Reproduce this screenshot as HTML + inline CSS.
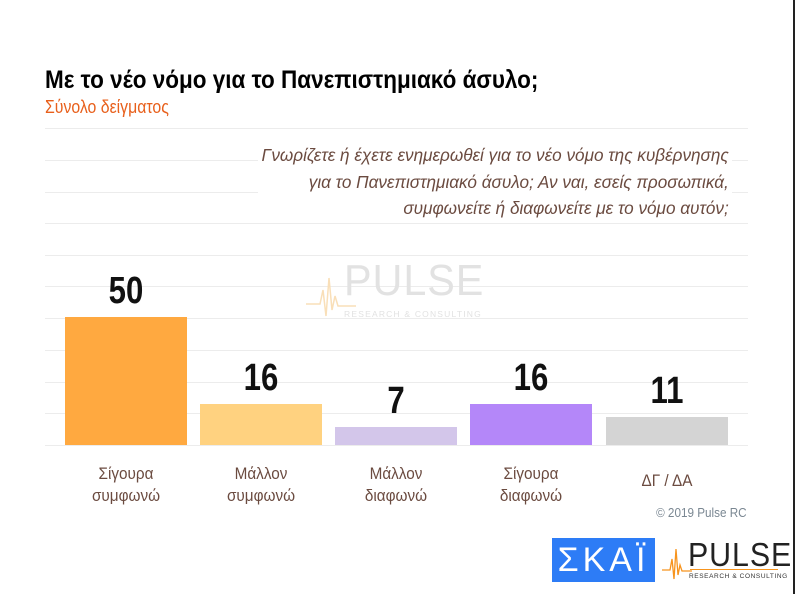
<!DOCTYPE html>
<html><head><meta charset="utf-8"><style>
body{margin:0;width:797px;height:594px;background:#fff;position:relative;overflow:hidden;font-family:"Liberation Sans",sans-serif}
.a{position:absolute;white-space:nowrap}
.g{position:absolute;left:45px;width:703px;height:1px;background:#ececec}
.bar{position:absolute}
.v{position:absolute;width:122px;text-align:center;font-weight:bold;font-size:38px;color:#111;transform:scaleX(0.82)}
.c{position:absolute;width:122px;text-align:center;font-size:17px;line-height:22px;color:#6b4b40;transform:scaleX(0.9)}
</style></head><body>
<div class="a" style="left:45px;top:66px;font-size:25px;font-weight:bold;color:#000;transform:scaleX(0.9);transform-origin:left top">Με το νέο νόμο για το Πανεπιστημιακό άσυλο;</div>
<div class="a" style="left:45px;top:97px;font-size:18px;color:#e8601c;transform:scaleX(0.88);transform-origin:left top">Σύνολο δείγματος</div>
<div class="g" style="top:128px"></div>
<div class="g" style="top:160px"></div>
<div class="g" style="top:192px"></div>
<div class="g" style="top:223px"></div>
<div class="g" style="top:255px"></div>
<div class="g" style="top:286px"></div>
<div class="g" style="top:318px"></div>
<div class="g" style="top:350px"></div>
<div class="g" style="top:382px"></div>
<div class="g" style="top:413px"></div>
<div class="g" style="top:445px"></div>
<div class="a" style="left:258px;top:142px;width:474px;height:76px;background:#fff"></div>
<div class="a" style="right:68px;top:142px;text-align:right;font-size:17.5px;line-height:26.5px;font-style:italic;color:#6b4b40;transform:scaleX(0.98);transform-origin:right top">Γνωρίζετε ή έχετε ενημερωθεί για το νέο νόμο της κυβέρνησης<br>για το Πανεπιστημιακό άσυλο; Αν ναι, εσείς προσωπικά,<br>συμφωνείτε ή διαφωνείτε με το νόμο αυτόν;</div>
<div class="a" style="left:344px;top:256px;font-size:44px;color:#e2e2e2;letter-spacing:1px;transform:scaleX(0.94);transform-origin:left top">PULSE</div>
<div class="a" style="left:344px;top:309px;font-size:8.5px;color:#e2e2e2;letter-spacing:1.2px">RESEARCH &amp; CONSULTING</div>
<svg class="a" style="left:306px;top:270px" width="50" height="52"><polyline points="0,34 14,34 17,20 20,46 23,8 26,40 29,26 32,36 50,36" fill="none" stroke="#f9dfb8" stroke-width="1.5"/></svg>
<div class="bar" style="left:65px;top:317px;width:122px;height:128px;background:#ffa940"></div>
<div class="bar" style="left:200px;top:404px;width:122px;height:41px;background:#ffd280"></div>
<div class="bar" style="left:335px;top:427px;width:122px;height:18px;background:#d3c6ea"></div>
<div class="bar" style="left:470px;top:404px;width:122px;height:41px;background:#b487f9"></div>
<div class="bar" style="left:606px;top:417px;width:122px;height:28px;background:#d4d4d4"></div>
<div class="v" style="left:65px;top:270px">50</div>
<div class="v" style="left:200px;top:357px">16</div>
<div class="v" style="left:335px;top:380px">7</div>
<div class="v" style="left:470px;top:357px">16</div>
<div class="v" style="left:606px;top:370px">11</div>
<div class="c" style="left:65px;top:463px">Σίγουρα<br>συμφωνώ</div>
<div class="c" style="left:200px;top:463px">Μάλλον<br>συμφωνώ</div>
<div class="c" style="left:335px;top:463px">Μάλλον<br>διαφωνώ</div>
<div class="c" style="left:470px;top:463px">Σίγουρα<br>διαφωνώ</div>
<div class="c" style="left:606px;top:470px">ΔΓ / ΔΑ</div>
<div class="a" style="right:50px;top:505px;font-size:13px;color:#7a8792;transform:scaleX(0.9);transform-origin:right top">© 2019 Pulse RC</div>
<div class="a" style="left:552px;top:538px;width:103px;height:44px;background:#2d7cf6;color:#fff;font-size:34px;line-height:44px;text-align:center;letter-spacing:4px">ΣΚΑΪ</div>
<div class="a" style="left:688px;top:538px;font-size:33px;line-height:34px;color:#222;letter-spacing:1px;transform:scaleX(0.92);transform-origin:left top">PULSE</div>
<div class="a" style="left:689px;top:573px;font-size:6.5px;color:#333;letter-spacing:0.6px">RESEARCH &amp; CONSULTING</div>
<svg class="a" style="left:662px;top:545px" width="30" height="38"><polyline points="0,25 8,25 10,14 12,34 14,4 16,30 18,20 20,26 30,26" fill="none" stroke="#f7941d" stroke-width="1.3"/></svg>
<div class="a" style="left:690px;top:569px;width:88px;height:1px;background:#f7941d"></div>
<div class="a" style="left:793px;top:0;width:2px;height:594px;background:#222"></div>
</body></html>
